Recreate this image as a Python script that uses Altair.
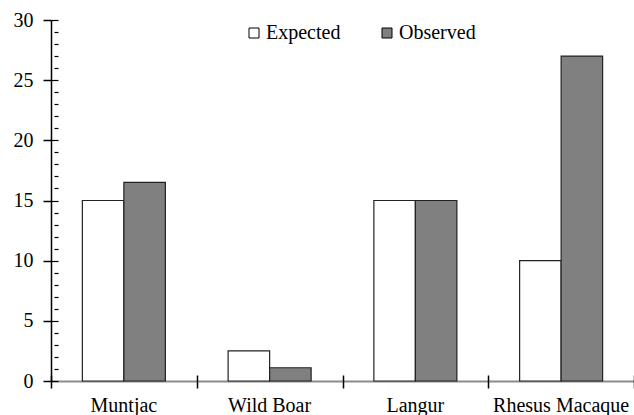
import altair as alt
import pandas as pd

# Observed vs expected counts per species
species = ["Muntjac", "Wild Boar", "Langur", "Rhesus Macaque"]
expected = [15, 2.5, 15, 10]
observed = [16.5, 1.1, 15, 27]
series = ["Expected", "Observed"]
major_ticks = list(range(0, 31, 5))
all_ticks = list(range(0, 31))

rows = []
for i, sp in enumerate(species):
    rows.append({"species": sp, "series": "Expected", "count": expected[i]})
    rows.append({"species": sp, "series": "Observed", "count": observed[i]})
df = pd.DataFrame(rows)

FONT = "Liberation Serif"
W, H = 583, 361
major = "datum.value % 5 === 0"

# Categories fill the whole width so band-extent ticks sit between species;
# the gap around each pair of bars comes from the offset scale's outer padding.
x_scale = alt.Scale(domain=species, paddingInner=0, paddingOuter=0)
y_scale = alt.Scale(domain=[0, 30], nice=False)
x_off = alt.XOffset("series:N", sort=series,
                    scale=alt.Scale(domain=series, paddingInner=0, paddingOuter=0.756))

# Bars with the labelled axes and the legend
bars = alt.Chart(df).mark_bar(stroke="#222222", strokeWidth=1.2).encode(
    x=alt.X("species:N", sort=species, scale=x_scale, title=None,
            axis=alt.Axis(orient="bottom", labelAngle=0, ticks=False,
                          domainColor="#8c8c8c", domainWidth=2,
                          labelFont=FONT, labelFontSize=20, labelColor="black",
                          labelPadding=14)),
    xOffset=x_off,
    y=alt.Y("count:Q", scale=y_scale, title=None,
            axis=alt.Axis(orient="left", values=major_ticks, ticks=False,
                          domainColor="black", domainWidth=1.5,
                          labelFont=FONT, labelFontSize=20, labelColor="black",
                          labelPadding=18, grid=False)),
    color=alt.Color("series:N", sort=series,
                    scale=alt.Scale(domain=series, range=["#ffffff", "#808080"]),
                    legend=alt.Legend(title=None, orient="none", direction="horizontal",
                                      legendX=193, legendY=3,
                                      symbolType="square", symbolSize=100,
                                      symbolStrokeColor="black", symbolStrokeWidth=1,
                                      labelFont=FONT, labelFontSize=20, labelColor="black",
                                      labelOffset=2, columnPadding=36)),
)

# Outer halves of the ticks: axes on the opposite side, shifted across the plot
outer = alt.Chart(df).mark_bar(opacity=0).encode(
    x=alt.X("species:N", sort=species, scale=x_scale, title=None,
            axis=alt.Axis(orient="top", labels=False, domain=False, tickBand="extent",
                          ticks=True, tickSize=7, tickWidth=1.5, tickColor="black",
                          offset=-(H + 7))),
    xOffset=x_off,
    y=alt.Y("count:Q", scale=y_scale, title=None,
            axis=alt.Axis(orient="right", values=major_ticks, labels=False, domain=False,
                          grid=False, ticks=True, tickColor="black", tickWidth=1.5,
                          tickSize=8, offset=-(W + 8))),
)

# Inner halves, so the ticks cross the axis lines
inner = alt.Chart(df).mark_bar(opacity=0).encode(
    x=alt.X("species:N", sort=species, scale=x_scale, title=None,
            axis=alt.Axis(orient="bottom", labels=False, domain=False, tickBand="extent",
                          ticks=True, tickSize=6, tickWidth=1.5, tickColor="black",
                          offset=-6)),
    xOffset=x_off,
    y=alt.Y("count:Q", scale=y_scale, title=None,
            axis=alt.Axis(orient="left", values=all_ticks, labels=False, domain=False,
                          grid=False, ticks=True, tickColor="black", tickWidth=1.2,
                          offset=-7,
                          tickSize=alt.condition(major, alt.value(7), alt.value(4)))),
)

chart = alt.layer(bars, outer, inner).resolve_axis(
    x="independent", y="independent"
).properties(
    width=W, height=H,
    autosize=alt.AutoSizeParams(type="none"),
    padding={"left": 51, "top": 20, "right": 0, "bottom": 34},
).configure_view(stroke=None)

chart.save("out.html", embed_options={"renderer": "svg", "actions": False})
